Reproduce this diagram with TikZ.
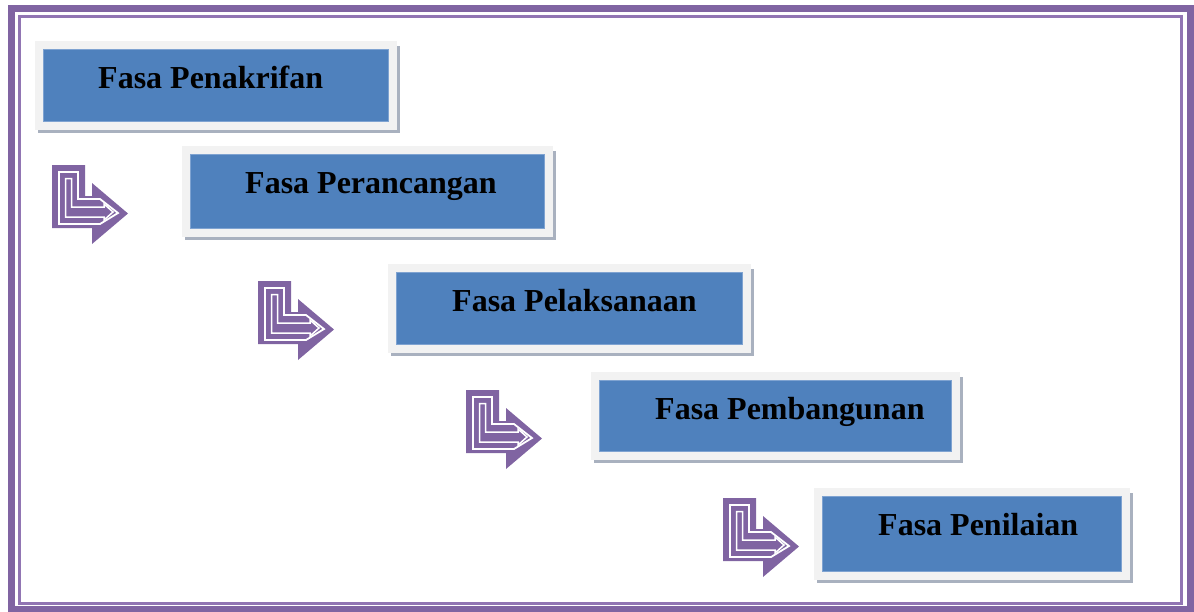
\documentclass[tikz,border=0pt]{standalone}
\usepackage{fontspec}
\setmainfont{Liberation Serif}
\usetikzlibrary{backgrounds}
\definecolor{purp}{HTML}{8064A2}
\definecolor{purpl}{HTML}{9175B3}
\definecolor{blu}{HTML}{4F81BD}
\definecolor{bluline}{HTML}{7FA3D1}
\definecolor{frm}{HTML}{F2F2F2}
\definecolor{shd}{HTML}{A9B1BF}
\tikzset{
  bluebox/.style={fill=blu, draw=bluline, line width=0.8pt, inner sep=0pt, anchor=north west},
  lbl/.style={font=\fontsize{32}{38}\selectfont\bfseries, text=black, inner sep=0pt, anchor=base west},
  bentarrow/.pic={
    \fill[purp] (0,0) -- (33,0) -- (33,31) -- (40,31) -- (40,18) -- (76,48.5) -- (40,79) -- (40,63) -- (0,63) -- cycle;
    \draw[white, line width=1.8pt, line join=miter] (7,7) -- (26,7) -- (26,34) -- (48,34) -- (66,48) -- (48,59) -- (7,59) -- cycle;
    \draw[white, line width=1.5pt, line join=miter] (13.5,13.5) -- (19.5,13.5) -- (19.5,42) -- (52,42) -- (52,39) -- (61,47) -- (52,55) -- (52,52) -- (13.5,52) -- cycle;
  }
}
\newcommand{\phaseframe}[1]{%
  \begin{scope}[on background layer]
    \fill[shd] ([shift={(-5,-3)}]#1.north west) rectangle ([shift={(11,11)}]#1.south east);
    \fill[frm] ([shift={(-8,-8)}]#1.north west) rectangle ([shift={(8,8)}]#1.south east);
  \end{scope}}
\begin{document}
\begin{tikzpicture}[x=1pt,y=-1pt]
\useasboundingbox (0,0) rectangle (1194,611);
\draw[purp, line width=7pt] (11,8) rectangle (1190,609);
\draw[purpl, line width=3pt] (19,16.5) rectangle (1181.5,603.5);

\node[bluebox, minimum width=345pt, minimum height=72pt] (b1) at (43,49) {};
\node[bluebox, minimum width=354pt, minimum height=74pt] (b2) at (190,154) {};
\node[bluebox, minimum width=346pt, minimum height=72pt] (b3) at (396,272) {};
\node[bluebox, minimum width=352pt, minimum height=71pt] (b4) at (599,380) {};
\node[bluebox, minimum width=299pt, minimum height=75pt] (b5) at (822,496) {};
\phaseframe{b1}
\phaseframe{b2}
\phaseframe{b3}
\phaseframe{b4}
\phaseframe{b5}

\node[lbl] (t1) at (98,88) {Fasa Penakrifan};
\node[lbl] (t2) at (245,193) {Fasa Perancangan};
\node[lbl] (t3) at (452,311) {Fasa Pelaksanaan};
\node[lbl] (t4) at (655,419) {Fasa Pembangunan};
\node[lbl] (t5) at (878,535) {Fasa Penilaian};

\pic at (52,165) {bentarrow};
\pic at (258,281) {bentarrow};
\pic at (466,390) {bentarrow};
\pic at (723,498) {bentarrow};
\end{tikzpicture}
\end{document}
